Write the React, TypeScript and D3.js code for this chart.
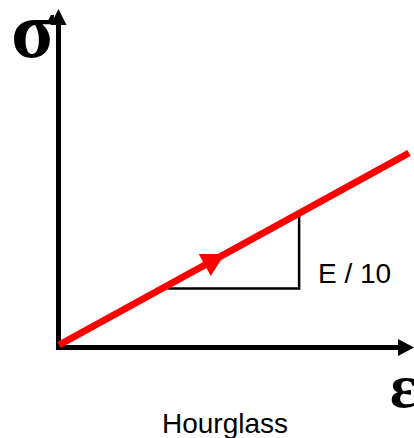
import React from "react";
import * as d3 from "d3";

const strain = [0, 1];
const stress = [0, 1];
const slopeTriangle = [0.31, 0.686];
const arrowAt = [0.474];
const slopeLabel = "E / 10";
const xLabel = "ε";
const yLabel = "σ";
const caption = "Hourglass";

const W = 414;
const H = 438;

export default function App() {
  const x = d3.scaleLinear().domain([0, 1]).range([59, 409]);
  const y = d3.scaleLinear().domain([0, 1]).range([345, 153]);
  const line = d3
    .line<number>()
    .x((_, i) => x(strain[i]))
    .y((_, i) => y(stress[i]));
  const pts = strain.map((s, i) => [s, stress[i]] as [number, number]);
  const slopeY = (s: number) => ((stress[1] - stress[0]) / (strain[1] - strain[0])) * s;

  const ax = 58.5;
  const ay = 347.5;
  const angle =
    (Math.atan2(y(stress[1]) - y(stress[0]), x(strain[1]) - x(strain[0])) * 180) / Math.PI;
  const ta = arrowAt[0];
  const [t0, t1] = slopeTriangle;

  return (
    <svg
      width={W}
      height={H}
      style={{ position: "absolute", left: 0, top: 0, display: "block" }}
    >
      <rect width={W} height={H} fill="#fff" />
      {/* axes */}
      <line x1={ax} y1={ay + 2.5} x2={ax} y2={22} stroke="#000" strokeWidth={5} />
      <path d={`M${ax},9 L${ax - 8},25 L${ax + 8},25 Z`} fill="#000" />
      <line x1={ax - 2.5} y1={ay} x2={400} y2={ay} stroke="#000" strokeWidth={5} />
      <path d={`M414,${ay} L398,${ay - 8.5} L398,${ay + 8.5} Z`} fill="#000" />
      {/* slope triangle */}
      <path
        d={`M${x(t0)},${y(slopeY(t0)) + 3} L${x(t1)},${y(slopeY(t0)) + 3} L${x(t1)},${y(slopeY(t1))}`}
        fill="none"
        stroke="#000"
        strokeWidth={2.5}
      />
      {/* red line */}
      <path d={line(pts) || ""} stroke="#ff0000" strokeWidth={7} fill="none" />
      <path
        d="M0,0 L-23,-12.5 L-23,12.5 Z"
        fill="#ff0000"
        transform={`translate(${x(ta)},${y(slopeY(ta))}) rotate(${angle})`}
      />
      {/* labels */}
      <text x={318} y={283} fontFamily="'Liberation Sans', Arial, sans-serif" fontSize={28} fill="#000">
        {slopeLabel}
      </text>
      <text x={225} y={433} textAnchor="middle" fontFamily="'Liberation Sans', Arial, sans-serif" fontSize={28} fill="#000">
        {caption}
      </text>
      <text x={11} y={57} fontFamily="'Liberation Serif', 'Times New Roman', serif" fontWeight="bold" fontSize={80} fill="#000">
        {yLabel}
      </text>
      <text x={390} y={407} fontFamily="'Liberation Serif', 'Times New Roman', serif" fontWeight="bold" fontSize={62} fill="#000">
        {xLabel}
      </text>
    </svg>
  );
}
